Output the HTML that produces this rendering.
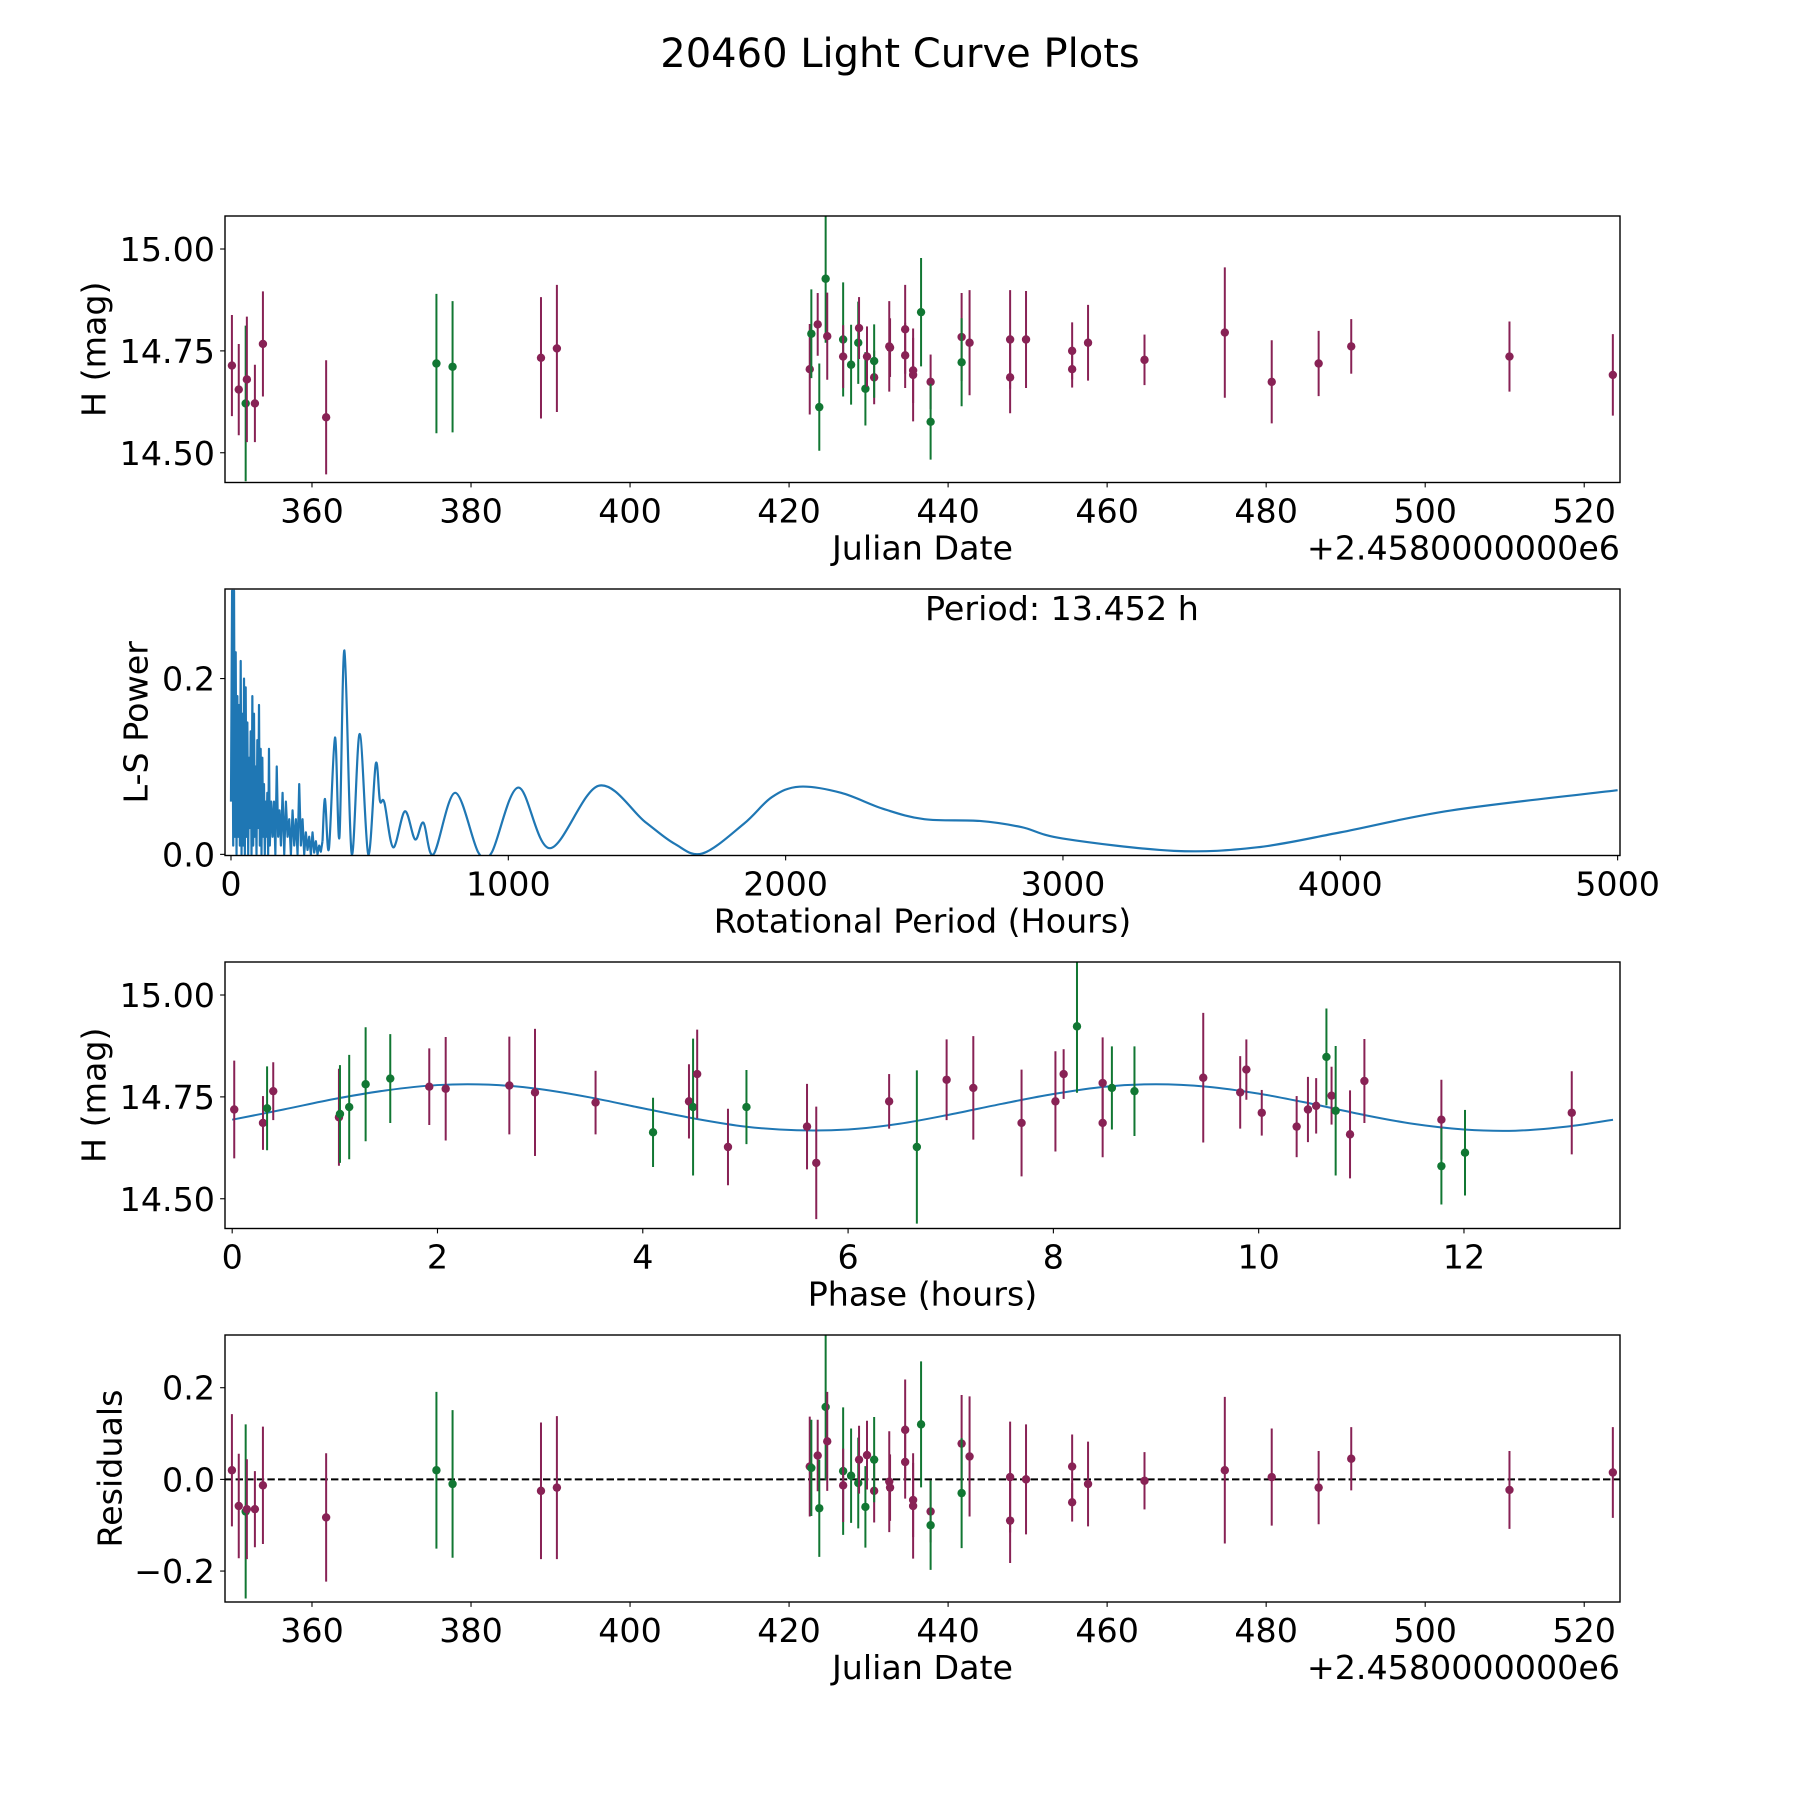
<!DOCTYPE html>
<html><head><meta charset="utf-8"><title>20460 Light Curve Plots</title>
<style>
html,body{margin:0;padding:0;background:#fff;}
svg{display:block;font-family:"DejaVu Sans","Liberation Sans",sans-serif;}
</style></head>
<body>
<svg id="fig" width="1800" height="1800" viewBox="0 0 1800 1800" xmlns="http://www.w3.org/2000/svg">
<rect x="0" y="0" width="1800" height="1800" fill="#fff"/>
<text x="900" y="67" font-size="40" text-anchor="middle">20460 Light Curve Plots</text>
</svg>
<script>
// ---------- Panel 1: light curve vs Julian Date ----------
const jdDates = [349.93,350.79,351.66,351.81,352.82,353.83,361.78,375.65,377.68,388.8,390.8,422.6,422.8,423.6,423.8,424.6,424.8,426.8,426.8,427.8,428.7,428.8,429.6,429.8,430.7,430.7,432.6,432.7,434.6,434.6,435.6,435.6,436.6,437.8,437.8,441.7,441.7,442.7,447.8,447.8,449.8,455.6,455.6,457.6,464.7,474.8,480.7,486.6,490.7,510.6,523.6];
const jdMags = [14.714,14.655,14.621,14.680,14.621,14.767,14.587,14.719,14.711,14.733,14.756,14.705,14.792,14.815,14.612,14.927,14.786,14.778,14.736,14.716,14.770,14.806,14.657,14.736,14.685,14.725,14.761,14.758,14.803,14.739,14.702,14.691,14.845,14.674,14.576,14.784,14.722,14.770,14.778,14.685,14.778,14.750,14.705,14.770,14.728,14.795,14.674,14.719,14.761,14.736,14.691];
const jdErrs = [0.124,0.112,0.191,0.154,0.095,0.129,0.140,0.171,0.161,0.149,0.156,0.111,0.109,0.077,0.107,0.157,0.107,0.140,0.077,0.098,0.101,0.076,0.090,0.074,0.066,0.090,0.111,0.072,0.109,0.080,0.080,0.114,0.133,0.067,0.093,0.108,0.108,0.129,0.121,0.088,0.119,0.070,0.045,0.093,0.062,0.160,0.102,0.080,0.067,0.086,0.100];
const jdGroups = ["m","m","g","m","m","m","m","g","g","m","m","m","g","m","g","g","m","g","m","g","g","m","g","m","m","g","m","m","m","m","m","m","g","m","g","m","g","m","m","m","m","m","m","m","m","m","m","m","m","m","m"];
const jdTicks = [360,380,400,420,440,460,480,500,520];
const magTicks = [14.50,14.75,15.00];
const magTickLabels = ["14.50","14.75","15.00"];

// ---------- Panel 2: Lomb-Scargle periodogram ----------
const lsPeriodNoisy = [0,4,8,11,14,17,20,23,26,29,32,35,38,41,44,47,50,53,56,59,62,65,68,71,74,77,80,83,86,89,92,95,98,101,104,107,110,113,116,119,122,125,128,131,134,137,140,145,150,155,160,165,170,175,180,186,192,198,204,210,216,222,228,234,240,246,252,258,264,270,276,282,288,294,300,306,312,318,324,330];
const lsPowerNoisy = [0.06,0.30,0.01,0.30,0.02,0.23,0.00,0.18,0.02,0.17,0.01,0.22,0.00,0.16,0.01,0.20,0.00,0.19,0.02,0.15,0.00,0.11,0.03,0.14,0.00,0.18,0.01,0.16,0.02,0.10,0.00,0.13,0.03,0.17,0.01,0.12,0.00,0.11,0.02,0.08,0.00,0.06,0.02,0.07,0.00,0.12,0.01,0.06,0.02,0.06,0.00,0.10,0.02,0.05,0.01,0.07,0.00,0.06,0.02,0.04,0.00,0.05,0.01,0.04,0.00,0.08,0.01,0.04,0.00,0.025,0.005,0.02,0.00,0.025,0.002,0.015,0.00,0.01,0.003,0.015];
const lsPeriodSmooth = [330,339,353,375,391,409,435,464,495,522,537,553,585,627,664,694,730,808,892,940,1036,1150,1325,1493,1600,1700,1850,1950,2050,2200,2350,2500,2700,2850,3000,3400,3700,4000,4400,5000];
const lsPowerSmooth = [0.015,0.063,0.006,0.133,0.0195,0.232,0.001,0.137,0.0,0.103,0.061,0.059,0.008,0.049,0.017,0.036,0.0,0.070,0.002,0.002,0.076,0.007,0.078,0.037,0.012,0.001,0.035,0.065,0.077,0.070,0.052,0.040,0.038,0.031,0.018,0.004,0.008,0.025,0.050,0.073];
const lsXTicks = [0,1000,2000,3000,4000,5000];
const lsYTicks = [0.0,0.2];
const lsYTickLabels = ["0.0","0.2"];

// ---------- Panel 3: phased light curve ----------
const phaseVals = [0.02,0.30,0.34,0.40,1.04,1.05,1.14,1.30,1.54,1.92,2.08,2.70,2.95,3.54,4.10,4.45,4.49,4.53,4.83,5.01,5.60,5.69,6.40,6.67,6.96,7.22,7.69,8.02,8.10,8.23,8.48,8.48,8.57,8.79,9.46,9.82,9.88,10.03,10.37,10.48,10.56,10.66,10.71,10.75,10.89,11.03,11.78,11.78,12.01,13.05];
const phaseMags = [14.719,14.686,14.722,14.764,14.700,14.708,14.725,14.781,14.795,14.775,14.770,14.778,14.761,14.736,14.663,14.739,14.725,14.806,14.627,14.725,14.677,14.588,14.739,14.627,14.792,14.772,14.686,14.739,14.806,14.923,14.784,14.686,14.772,14.764,14.797,14.761,14.817,14.711,14.677,14.719,14.728,14.848,14.753,14.716,14.658,14.789,14.694,14.580,14.613,14.711];
const phaseErrs = [0.120,0.066,0.103,0.071,0.119,0.120,0.128,0.140,0.109,0.094,0.127,0.120,0.156,0.078,0.085,0.091,0.168,0.109,0.094,0.091,0.105,0.138,0.067,0.188,0.099,0.127,0.131,0.123,0.061,0.163,0.112,0.084,0.102,0.110,0.159,0.089,0.074,0.056,0.075,0.080,0.068,0.119,0.071,0.159,0.108,0.103,0.098,0.094,0.105,0.102];
const phaseGroups = ["m","m","g","m","m","g","g","g","g","m","m","m","m","m","g","m","g","m","m","g","m","m","m","g","m","m","m","m","m","g","m","m","g","g","m","m","m","m","m","m","m","g","m","g","m","m","m","g","g","m"];
const fitPhase = [0,0.5,1,1.5,2,2.5,3,3.5,4,4.5,5,5.5,6,6.5,7,7.5,8,8.5,9,9.5,10,10.5,11,11.5,12,12.5,13,13.452];
const fitMag = [14.694,14.719,14.745,14.766,14.779,14.780,14.769,14.748,14.722,14.697,14.677,14.668,14.670,14.684,14.707,14.733,14.757,14.775,14.781,14.775,14.758,14.734,14.707,14.684,14.670,14.667,14.677,14.694];
const phaseTicks = [0,2,4,6,8,10,12];

// ---------- Panel 4: residuals ----------
const resVals = [0.020,-0.058,-0.070,-0.065,-0.065,-0.013,-0.083,0.020,-0.010,-0.025,-0.018,0.028,0.025,0.052,-0.063,0.158,0.083,0.018,-0.013,0.008,-0.008,0.043,-0.060,0.053,-0.025,0.043,-0.005,-0.018,0.108,0.038,-0.045,-0.058,0.120,-0.070,-0.100,0.078,-0.030,0.050,0.005,-0.090,0.0,0.028,-0.050,-0.010,-0.003,0.020,0.005,-0.018,0.045,-0.023,0.015];
const resErrs = [0.1225,0.114,0.19,0.109,0.083,0.128,0.14,0.171,0.161,0.149,0.156,0.109,0.105,0.078,0.106,0.16,0.108,0.139,0.08,0.103,0.099,0.074,0.089,0.075,0.069,0.093,0.11,0.0725,0.11,0.08,0.081,0.115,0.1375,0.0675,0.0975,0.106,0.12,0.131,0.121,0.0925,0.12,0.07,0.042,0.0925,0.0625,0.16,0.106,0.08,0.069,0.085,0.099];
const resTicks = [-0.2,0.0,0.2];
const resTickLabels = ["\u22120.2","0.0","0.2"];

const COLORS = {m:"#882255", g:"#117733"};
const NS = "http://www.w3.org/2000/svg";
const svg = document.getElementById("fig");
const L = 225, R = 1620;
const FS = 33.3;

function mk(tag, attrs, parent){
  const e = document.createElementNS(NS, tag);
  for (const k in attrs) e.setAttribute(k, attrs[k]);
  (parent||svg).appendChild(e);
  return e;
}
function scale(d0,d1,r0,r1){ return v => r0 + (v-d0)*(r1-r0)/(d1-d0); }

function makeAxes(id, top, bottom, xlim, ylim){
  const g = mk("g", {});
  
  
  const cp = mk("clipPath", {id: id+"-clip"}, g);
  mk("rect", {x:L, y:top, width:R-L, height:bottom-top}, cp);
  const x = scale(xlim[0], xlim[1], L, R);
  const y = scale(ylim[0], ylim[1], bottom, top);
  const plot = mk("g", {"clip-path":"url(#"+id+"-clip)"}, g);
  
  
  return {g, plot, x, y, top, bottom};
}
function drawFrame(ax, name){
  const f = mk("rect", {x:L, y:ax.top, width:R-L, height:ax.bottom-ax.top, fill:"none", stroke:"#000", "stroke-width":1.4}, ax.g);
  
  
}
function xTicks(ax, vals, labels, name){
  vals.forEach((v,i)=>{
    const px = ax.x(v);
    const t = mk("line", {x1:px, x2:px, y1:ax.bottom, y2:ax.bottom+4.9, stroke:"#000", "stroke-width":1.1}, ax.g);
    
    
    const tx = mk("text", {x:px, y:ax.bottom+40, "font-size":FS, "text-anchor":"middle"}, ax.g);
    tx.textContent = labels[i];
    
    
  });
}
function yTicks(ax, vals, labels, name){
  vals.forEach((v,i)=>{
    const py = ax.y(v);
    const t = mk("line", {x1:L-4.9, x2:L, y1:py, y2:py, stroke:"#000", "stroke-width":1.1}, ax.g);
    
    
    const tx = mk("text", {x:L-10, y:py+12, "font-size":FS, "text-anchor":"end"}, ax.g);
    tx.textContent = labels[i];
    
    
  });
}
function xLabel(ax, text, name){
  const t = mk("text", {x:(L+R)/2, y:ax.bottom+77, "font-size":FS, "text-anchor":"middle"}, ax.g);
  t.textContent = text;
  
  
}
function yLabel(ax, text, cx, name){
  const cy = (ax.top+ax.bottom)/2;
  const t = mk("text", {x:cx, y:cy, "font-size":FS, "text-anchor":"middle", "dominant-baseline":"central", transform:"rotate(-90 "+cx+" "+cy+")"}, ax.g);
  t.textContent = text;
  
  
}
function offsetText(ax, name){
  const t = mk("text", {x:R, y:ax.bottom+77, "font-size":FS, "text-anchor":"end"}, ax.g);
  t.textContent = "+2.4580000000e6";
  
  
}
function errorPoints(ax, xs, ys, es, groups, name){
  xs.forEach((xv,i)=>{
    const c = COLORS[groups[i]];
    const px = ax.x(xv);
    const bar = mk("line", {x1:px, x2:px, y1:ax.y(ys[i]-es[i]), y2:ax.y(ys[i]+es[i]), stroke:c, "stroke-width":2}, ax.plot);
    
    
    const dot = mk("circle", {cx:px, cy:ax.y(ys[i]), r:4.2, fill:c}, ax.plot);
    
    
  });
}
function smoothPath(pts){
  let d = "M"+pts[0][0]+","+pts[0][1];
  for (let i=0;i<pts.length-1;i++){
    const p0 = pts[Math.max(0,i-1)], p1 = pts[i], p2 = pts[i+1], p3 = pts[Math.min(pts.length-1,i+2)];
    const c1x = p1[0]+(p2[0]-p0[0])/6, c1y = p1[1]+(p2[1]-p0[1])/6;
    const c2x = p2[0]-(p3[0]-p1[0])/6, c2y = p2[1]-(p3[1]-p1[1])/6;
    d += " C"+c1x+","+c1y+" "+c2x+","+c2y+" "+p2[0]+","+p2[1];
  }
  return d;
}
const jdLabels = jdTicks.map(String);

// Panel 1
const ax1 = makeAxes("light-curve-panel", 216, 482.5, [349.06,524.5], [14.427,15.081]);
errorPoints(ax1, jdDates, jdMags, jdErrs, jdGroups, "light-curve");
drawFrame(ax1, "light-curve");
xTicks(ax1, jdTicks, jdLabels, "light-curve");
yTicks(ax1, magTicks, magTickLabels, "light-curve");
xLabel(ax1, "Julian Date", "light-curve");
offsetText(ax1, "light-curve");
yLabel(ax1, "H (mag)", 94, "light-curve");

// Panel 2
const ax2 = makeAxes("periodogram-panel", 589, 855.5, [-21.6,5008.6], [-0.0013,0.3019]);
const noisyPts = lsPeriodNoisy.map((p,i)=>[ax2.x(p), ax2.y(lsPowerNoisy[i])]);
const pn = mk("path", {d:"M"+noisyPts.map(p=>p[0]+","+p[1]).join(" L"), fill:"none", stroke:"#1f77b4", "stroke-width":2.2, "stroke-linejoin":"round"}, ax2.plot);


const smoothPts = lsPeriodSmooth.map((p,i)=>[ax2.x(p), ax2.y(lsPowerSmooth[i])]);
const ps = mk("path", {d:smoothPath(smoothPts), fill:"none", stroke:"#1f77b4", "stroke-width":2.2}, ax2.plot);


drawFrame(ax2, "periodogram");
xTicks(ax2, lsXTicks, lsXTicks.map(String), "periodogram");
yTicks(ax2, lsYTicks, lsYTickLabels, "periodogram");
xLabel(ax2, "Rotational Period (Hours)", "periodogram");
yLabel(ax2, "L-S Power", 136, "periodogram");
const pt = mk("text", {x:925, y:620, "font-size":FS, "text-anchor":"start"}, ax2.g);
pt.textContent = "Period: 13.452 h";



// Panel 3
const ax3 = makeAxes("phase-panel", 962, 1228.5, [-0.07,13.52], [14.427,15.081]);
const fitPts = fitPhase.map((p,i)=>[ax3.x(p), ax3.y(fitMag[i])]);
const fp = mk("path", {d:smoothPath(fitPts), fill:"none", stroke:"#1f77b4", "stroke-width":2}, ax3.plot);


errorPoints(ax3, phaseVals, phaseMags, phaseErrs, phaseGroups, "phase");
drawFrame(ax3, "phase");
xTicks(ax3, phaseTicks, phaseTicks.map(String), "phase");
yTicks(ax3, magTicks, magTickLabels, "phase");
xLabel(ax3, "Phase (hours)", "phase");
yLabel(ax3, "H (mag)", 94, "phase");

// Panel 4
const ax4 = makeAxes("residuals-panel", 1335, 1602, [349.06,524.5], [-0.2675,0.315]);
const zl = mk("line", {x1:L, x2:R, y1:ax4.y(0), y2:ax4.y(0), stroke:"#000", "stroke-width":2, "stroke-dasharray":"7.4,3.2"}, ax4.plot);


errorPoints(ax4, jdDates, resVals, resErrs, jdGroups, "residuals");
drawFrame(ax4, "residuals");
xTicks(ax4, jdTicks, jdLabels, "residuals");
yTicks(ax4, resTicks, resTickLabels, "residuals");
xLabel(ax4, "Julian Date", "residuals");
offsetText(ax4, "residuals");
yLabel(ax4, "Residuals", 110, "residuals");
</script>
</body></html>
